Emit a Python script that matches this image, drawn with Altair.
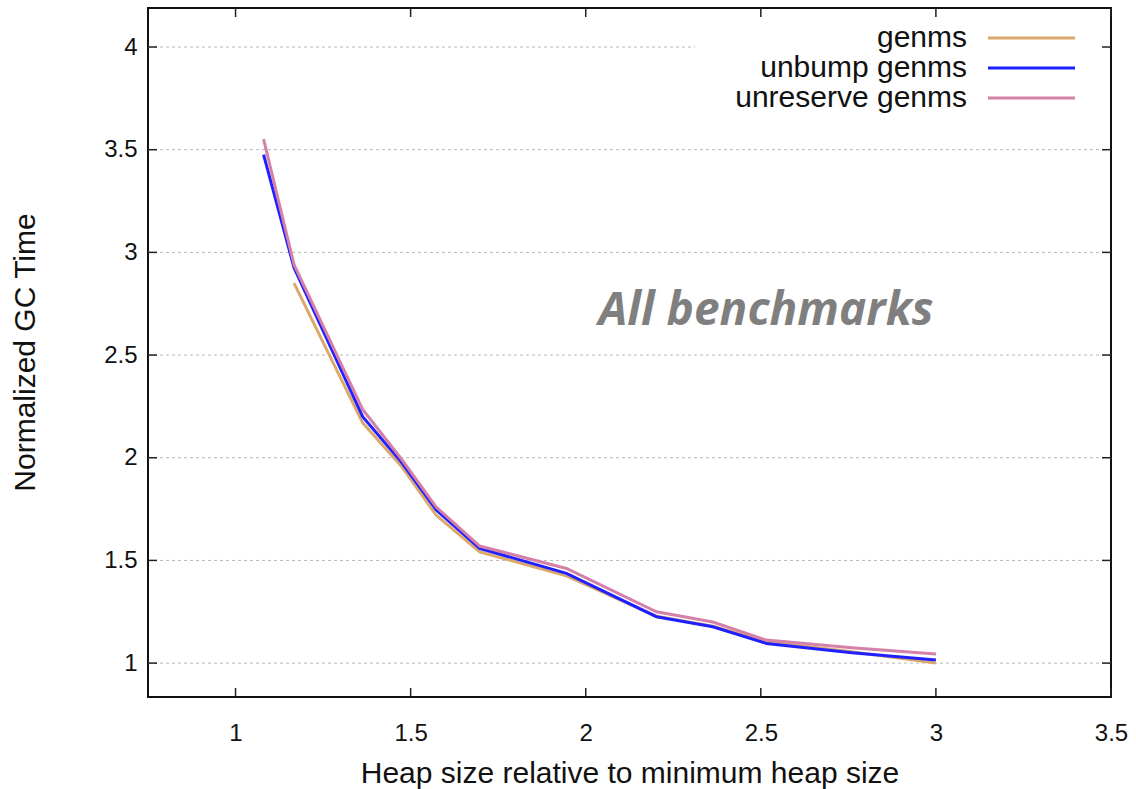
import altair as alt
import pandas as pd

# ---- data ----
heap = [1.08, 1.167, 1.363, 1.473, 1.573, 1.697, 1.945, 2.202, 2.363, 2.516, 2.76, 3.0]
genms = [None, 2.85, 2.17, 1.96, 1.72, 1.542, 1.425, 1.228, 1.18, 1.104, 1.055, 1.0]
unbump = [3.476, 2.925, 2.20, 1.98, 1.746, 1.559, 1.437, 1.226, 1.177, 1.096, 1.05, 1.015]
unreserve = [3.552, 2.94, 2.235, 1.995, 1.76, 1.57, 1.461, 1.25, 1.20, 1.112, 1.075, 1.044]

series_names = ["genms", "unbump genms", "unreserve genms"]
series_values = [genms, unbump, unreserve]
series_colors = ["#DBA96B", "#1F1FFF", "#D480A8"]

x_ticks = [1, 1.5, 2, 2.5, 3, 3.5]
y_ticks = [1, 1.5, 2, 2.5, 3, 3.5, 4]
annotation = "All benchmarks"
x_title = "Heap size relative to minimum heap size"
y_title = "Normalized GC Time"

W, H = 963, 689
FONT = "Liberation Sans"

rows = []
for name, vals in zip(series_names, series_values):
    for x, y in zip(heap, vals):
        if y is not None:
            rows.append({"heap": x, "value": y, "series": name})
df = pd.DataFrame(rows)

xs = alt.Scale(domain=[0.75, 3.5], nice=False, zero=False)
ys = alt.Scale(domain=[0.835, 4.19], nice=False, zero=False)
cs = alt.Scale(domain=series_names, range=series_colors)

ytick_df = pd.DataFrame({"v": y_ticks})
xtick_df = pd.DataFrame({"v": x_ticks})

# axes (labels + titles only)
axes = alt.Chart(xtick_df).mark_point(opacity=0).encode(
    x=alt.X("v:Q", scale=xs, axis=alt.Axis(values=x_ticks, format="~g", title=x_title, grid=False, domain=False,
                                            ticks=False, tickSize=0, labelPadding=24, labelFontSize=24,
                                            titleFontSize=30, titleY=76, titleBaseline="middle",
                                            labelFlush=False)),
    y=alt.Y("v:Q", scale=ys, axis=alt.Axis(values=y_ticks, format="~g", title=y_title, grid=False, domain=False,
                                            ticks=False, tickSize=0, labelPadding=11, labelFontSize=24,
                                            titleFontSize=30, titleX=-123, titleY=344,
                                            titleAngle=270, titleBaseline="middle", titleAlign="center",
                                            labelFlush=False)),
)

grid_main = alt.Chart(ytick_df[ytick_df.v < 4]).mark_rule(
    color="#b8b8b8", strokeDash=[3, 3], strokeWidth=1
).encode(y=alt.Y("v:Q", scale=ys), x=alt.value(0), x2=alt.value(W))
grid_top = alt.Chart(ytick_df[ytick_df.v == 4]).mark_rule(
    color="#b8b8b8", strokeDash=[3, 3], strokeWidth=1
).encode(y=alt.Y("v:Q", scale=ys), x=alt.value(0), x2=alt.value(547))

tk = dict(color="#222222", strokeWidth=1.5)
tick_b = alt.Chart(xtick_df).mark_rule(**tk).encode(x=alt.X("v:Q", scale=xs), y=alt.value(H), y2=alt.value(H - 9))
tick_t = alt.Chart(xtick_df).mark_rule(**tk).encode(x=alt.X("v:Q", scale=xs), y=alt.value(0), y2=alt.value(9))
tick_l = alt.Chart(ytick_df).mark_rule(**tk).encode(y=alt.Y("v:Q", scale=ys), x=alt.value(0), x2=alt.value(9))
tick_r = alt.Chart(ytick_df).mark_rule(**tk).encode(y=alt.Y("v:Q", scale=ys), x=alt.value(W), x2=alt.value(W - 9))

lines = []
for name in series_names:
    lines.append(
        alt.Chart(df[df.series == name]).mark_line(strokeWidth=3).encode(
            x=alt.X("heap:Q", scale=xs),
            y=alt.Y("value:Q", scale=ys),
            color=alt.Color("series:N", scale=cs, legend=None),
        )
    )

legend_layers = []
for i, name in enumerate(series_names):
    ld = pd.DataFrame({"series": [name]})
    ypos = 30 + 30 * i
    legend_layers.append(
        alt.Chart(ld).mark_text(align="right", baseline="middle", font=FONT, fontSize=30, color="#111111").encode(
            text="series:N", x=alt.value(819), y=alt.value(ypos)
        )
    )
    legend_layers.append(
        alt.Chart(ld).mark_rule(strokeWidth=3).encode(
            color=alt.Color("series:N", scale=cs, legend=None),
            x=alt.value(840), x2=alt.value(927), y=alt.value(ypos)
        )
    )

ann = alt.Chart(pd.DataFrame({"t": [annotation]})).mark_text(
    font="Open Sans", fontSize=46, fontWeight="bold", fontStyle="italic", color="#7f7f7f",
    align="center", baseline="middle"
).encode(text="t:N", x=alt.value(618), y=alt.value(303))

chart = alt.layer(
    axes, grid_main, grid_top, tick_b, tick_t, tick_l, tick_r, *lines, *legend_layers, ann
).properties(
    width=W, height=H,
    padding={"left": 148, "top": 8, "right": 25, "bottom": 92},
    autosize=alt.AutoSizeParams(type="none"),
    background="white",
).configure_view(
    stroke="#111111", strokeWidth=2
).configure_axis(
    labelFont=FONT, titleFont=FONT, labelColor="#111111", titleColor="#111111", titleFontWeight="normal"
)

chart.save("out.html", embed_options={"renderer": "svg", "actions": False})
